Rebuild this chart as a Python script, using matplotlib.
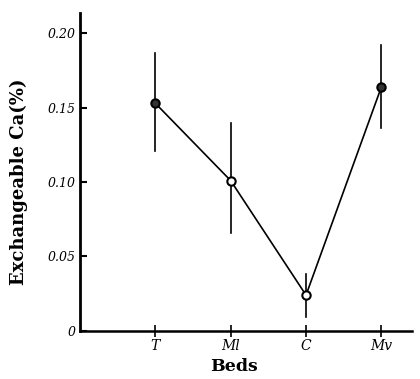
import matplotlib
matplotlib.use('Agg')
import matplotlib.pyplot as plt

# ── data ─────────────────────────────────────────────────────────────────────
beds      = ['T', 'Ml', 'C', 'Mv']
ca_mean   = [0.153, 0.101, 0.024, 0.164]
ca_low    = [0.121, 0.066, 0.009, 0.136]
ca_high   = [0.187, 0.140, 0.038, 0.192]
filled    = [True, False, False, True]
y_ticks   = [0, 0.05, 0.10, 0.15, 0.20]
y_labels  = ['0', '0.05', '0.10', '0.15', '0.20']

x = list(range(len(beds)))

fig = plt.figure(figsize=(4.2, 3.79), dpi=100)
ax = fig.add_axes([0.19, 0.127, 0.79, 0.838])

ax.plot(x, ca_mean, color='black', linewidth=1.2, zorder=2)
for xi, m, lo, hi, f in zip(x, ca_mean, ca_low, ca_high, filled):
    ax.plot([xi, xi], [lo, hi], color='black', linewidth=1.2, zorder=2)
    ax.plot(xi, m, marker='o', markersize=6, markeredgewidth=1.5,
            markeredgecolor='black', markerfacecolor='#333333' if f else 'white',
            zorder=3)

ax.set_xlim(-1.0, 3.4)
ax.set_ylim(0, 0.2134)

ax.spines['top'].set_visible(False)
ax.spines['right'].set_visible(False)
ax.spines['left'].set_linewidth(2)
ax.spines['bottom'].set_linewidth(1.8)

ax.set_yticks(y_ticks)
ax.set_yticklabels(y_labels, fontsize=9, family='DejaVu Serif', style='italic')
ax.set_xticks(x)
ax.set_xticklabels(beds, fontsize=10, family='DejaVu Serif', style='italic')
ax.tick_params(axis='y', direction='in', length=5, width=1.5, pad=3)
ax.tick_params(axis='x', direction='inout', length=8, width=1.2, pad=2)

ax.set_xlabel('Beds', fontsize=12.5, fontweight='bold', family='DejaVu Serif')
ax.set_ylabel('Exchangeable Ca(%)', fontsize=13, fontweight='bold',
              family='DejaVu Serif')
ax.xaxis.set_label_coords(0.465, -0.085)
ax.yaxis.set_label_coords(-0.155, 0.47)

plt.savefig('out.png', dpi=100, facecolor='white')
plt.close()
